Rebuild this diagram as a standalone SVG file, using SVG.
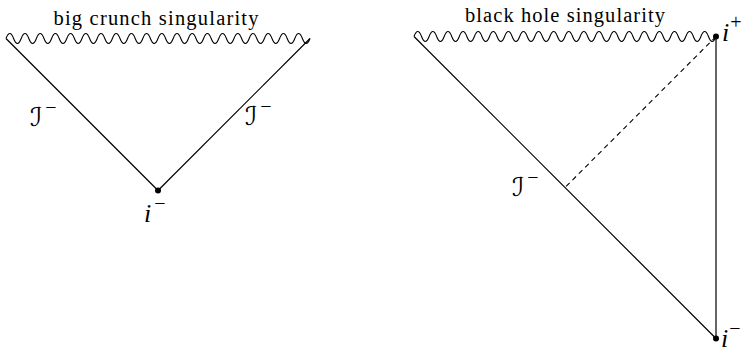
<svg xmlns="http://www.w3.org/2000/svg" width="745" height="352" viewBox="0 0 745 352">
<style>
.ln{fill:none;stroke:#000;stroke-width:1.2}
.wave{fill:none;stroke:#000;stroke-width:1.1;stroke-linejoin:round}
.dash{fill:none;stroke:#000;stroke-width:1.1;stroke-dasharray:5 4}
.title{font-family:"Liberation Serif","DejaVu Serif",serif;font-size:20.5px;fill:#000;text-anchor:middle}
.pt{font-family:"Liberation Serif","DejaVu Serif",serif;font-size:26px;font-style:italic;fill:#000}
.sup{font-family:"Liberation Serif","DejaVu Serif",serif;font-style:normal;font-size:20px}
.scri{font-family:"DejaVu Serif","DejaVu Sans",serif;font-size:26px;font-style:italic;fill:#000}
.dot{fill:#000}
</style>
<g id="connectors">
<line class="ln" x1="6" y1="38.5" x2="158" y2="190.5"/>
<line class="ln" x1="310" y1="38.5" x2="158" y2="190.5"/>
<line class="ln" x1="414" y1="36.5" x2="716" y2="338.5"/>
<line class="ln" x1="716" y1="36.5" x2="716" y2="338.5"/>
<line class="dash" x1="716" y1="36.5" x2="565" y2="187.5"/>
</g>
<g id="big-crunch-singularity">
<path class="wave" d="M6,38.5 q3.8,-10 7.6,0 t7.6,0 t7.6,0 t7.6,0 t7.6,0 t7.6,0 t7.6,0 t7.6,0 t7.6,0 t7.6,0 t7.6,0 t7.6,0 t7.6,0 t7.6,0 t7.6,0 t7.6,0 t7.6,0 t7.6,0 t7.6,0 t7.6,0 t7.6,0 t7.6,0 t7.6,0 t7.6,0 t7.6,0 t7.6,0 t7.6,0 t7.6,0 t7.6,0 t7.6,0 t7.6,0 t7.6,0 t7.6,0 t7.6,0 t7.6,0 t7.6,0 t7.6,0 t7.6,0 t7.6,0 t7.6,0"/>
<text class="title" x="156" y="25" textLength="205">big crunch singularity</text>
</g>
<g id="left-i-minus">
<circle class="dot" cx="158" cy="190.5" r="3"/>
<text class="pt" x="144" y="222">i<tspan class="sup" dx="3" dy="-12">−</tspan></text>
</g>
<g id="left-scri-1">
<text class="scri" x="30" y="126">ℐ<tspan class="sup" dx="3" dy="-12">−</tspan></text>
</g>
<g id="left-scri-2">
<text class="scri" x="245" y="125">ℐ<tspan class="sup" dx="3" dy="-12">−</tspan></text>
</g>
<g id="black-hole-singularity">
<path class="wave" d="M414,36.5 q3.775,-10 7.55,0 t7.55,0 t7.55,0 t7.55,0 t7.55,0 t7.55,0 t7.55,0 t7.55,0 t7.55,0 t7.55,0 t7.55,0 t7.55,0 t7.55,0 t7.55,0 t7.55,0 t7.55,0 t7.55,0 t7.55,0 t7.55,0 t7.55,0 t7.55,0 t7.55,0 t7.55,0 t7.55,0 t7.55,0 t7.55,0 t7.55,0 t7.55,0 t7.55,0 t7.55,0 t7.55,0 t7.55,0 t7.55,0 t7.55,0 t7.55,0 t7.55,0 t7.55,0 t7.55,0 t7.55,0 t7.55,0"/>
<text class="title" x="565" y="22" textLength="200">black hole singularity</text>
</g>
<g id="right-i-plus">
<circle class="dot" cx="716" cy="36.5" r="3"/>
<text class="pt" x="722" y="41">i<tspan class="sup" dx="1" dy="-12">+</tspan></text>
</g>
<g id="right-i-minus">
<circle class="dot" cx="716" cy="338.5" r="3"/>
<text class="pt" x="721" y="347">i<tspan class="sup" dx="1" dy="-12">−</tspan></text>
</g>
<g id="right-scri">
<text class="scri" x="512" y="196">ℐ<tspan class="sup" dx="3" dy="-12">−</tspan></text>
</g>
</svg>
